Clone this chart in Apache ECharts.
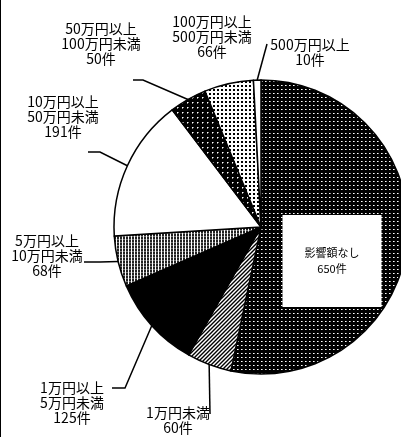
<!DOCTYPE html>
<html>
<head>
<meta charset="utf-8">
<script src="https://cdn.jsdelivr.net/npm/echarts@6/dist/echarts.min.js"></script>
<style>
html, body { margin: 0; padding: 0; background: #fff; }
#chart { width: 401px; height: 437px; }
</style>
</head>
<body>
<div id="chart"></div>
<script>
// 被害額の区分と件数
const categories = [
    '影響額なし',
    '1万円未満',
    '1万円以上\n5万円未満',
    '5万円以上\n10万円未満',
    '10万円以上\n50万円未満',
    '50万円以上\n100万円未満',
    '100万円以上\n500万円未満',
    '500万円以上'
];
const counts = [650, 60, 125, 68, 191, 50, 66, 10];
const unit = '件';

// ラベル位置と引き出し線の折れ点
const labelSpots = [
    { x: 332, y: 261, align: 'center', va: 'middle' },
    { x: 178, y: 405, line: [[210, 414]] },
    { x: 72, y: 380, line: [[125, 388], [112, 388]] },
    { x: 47, y: 233, line: [[100, 262], [84, 262]] },
    { x: 63, y: 94, line: [[100, 152], [88, 152]] },
    { x: 101, y: 21, line: [[143, 80], [133, 80]] },
    { x: 212, y: 14 },
    { x: 310, y: 37, line: [[267, 44]] }
];

function makePattern(size, bg, draw) {
    const c = document.createElement('canvas');
    c.width = size;
    c.height = size;
    const ctx = c.getContext('2d');
    ctx.fillStyle = bg;
    ctx.fillRect(0, 0, size, size);
    draw(ctx);
    return { image: c, repeat: 'repeat' };
}

const patterns = [
    // 黒地に白い細かい点
    makePattern(4, '#000', ctx => {
        ctx.fillStyle = '#fff';
        ctx.fillRect(1, 1, 1, 1);
        ctx.fillStyle = '#999';
        ctx.fillRect(2, 1, 1, 1);
    }),
    // 斜線
    makePattern(4, '#fff', ctx => {
        ctx.strokeStyle = '#000';
        ctx.lineWidth = 1.4;
        ctx.beginPath();
        ctx.moveTo(-1, 5); ctx.lineTo(5, -1);
        ctx.moveTo(-1, 1); ctx.lineTo(1, -1);
        ctx.moveTo(3, 5); ctx.lineTo(5, 3);
        ctx.stroke();
    }),
    '#000',
    // 灰色の網点（縦に並ぶ）
    makePattern(3, '#fff', ctx => {
        ctx.fillStyle = '#222';
        ctx.fillRect(0, 0, 2, 2);
        ctx.fillStyle = '#777';
        ctx.fillRect(0, 2, 2, 1);
    }),
    '#fff',
    // 黒地に白い粗い点
    makePattern(5, '#000', ctx => {
        ctx.fillStyle = '#fff';
        ctx.fillRect(2, 2, 1, 1);
        ctx.fillStyle = '#888';
        ctx.fillRect(3, 2, 1, 1);
        ctx.fillRect(2, 3, 1, 1);
    }),
    // 白地に黒い点
    makePattern(4, '#fff', ctx => {
        ctx.fillStyle = '#000';
        ctx.fillRect(1, 1, 2, 2);
    }),
    '#fff'
];

const pieData = categories.map((name, i) => {
    const item = {
        name: name,
        value: counts[i],
        itemStyle: { color: patterns[i] }
    };
    if (i === 0) {
        item.label = {
            position: 'inside',
            fontSize: 11,
            lineHeight: 16,
            backgroundColor: '#fff',
            width: 63,
            height: 32,
            overflow: 'none',
            padding: [30, 18],
            align: 'center',
            verticalAlign: 'middle'
        };
    }
    if (!labelSpots[i].line) {
        item.labelLine = { show: false };
    }
    return item;
});

const chart = echarts.init(document.getElementById('chart'));
chart.setOption({
    animation: false,
    backgroundColor: '#fff',
    graphic: [{
        type: 'rect',
        shape: { x: 0, y: 0, width: 1, height: 437 },
        style: { fill: '#000' },
        z: 100
    }],
    series: [{
        type: 'pie',
        center: [261, 227],
        radius: 147,
        startAngle: 90,
        clockwise: true,
        avoidLabelOverlap: false,
        data: pieData,
        itemStyle: {
            borderColor: '#000',
            borderWidth: 1.5
        },
        label: {
            show: true,
            position: 'outside',
            formatter: '{b}\n{c}' + unit,
            color: '#000',
            fontFamily: 'Noto Sans CJK JP',
            fontSize: 14,
            lineHeight: 15,
            align: 'center'
        },
        labelLine: {
            show: true,
            lineStyle: { color: '#000', width: 1.5 }
        },
        labelLayout: function (params) {
            const spot = labelSpots[params.dataIndex];
            const out = {
                x: spot.x,
                y: spot.y,
                align: spot.align || 'center',
                verticalAlign: spot.va || 'top'
            };
            if (spot.line && params.labelLinePoints) {
                out.labelLinePoints = [params.labelLinePoints[0]].concat(spot.line);
            }
            return out;
        }
    }]
});
</script>
</body>
</html>
